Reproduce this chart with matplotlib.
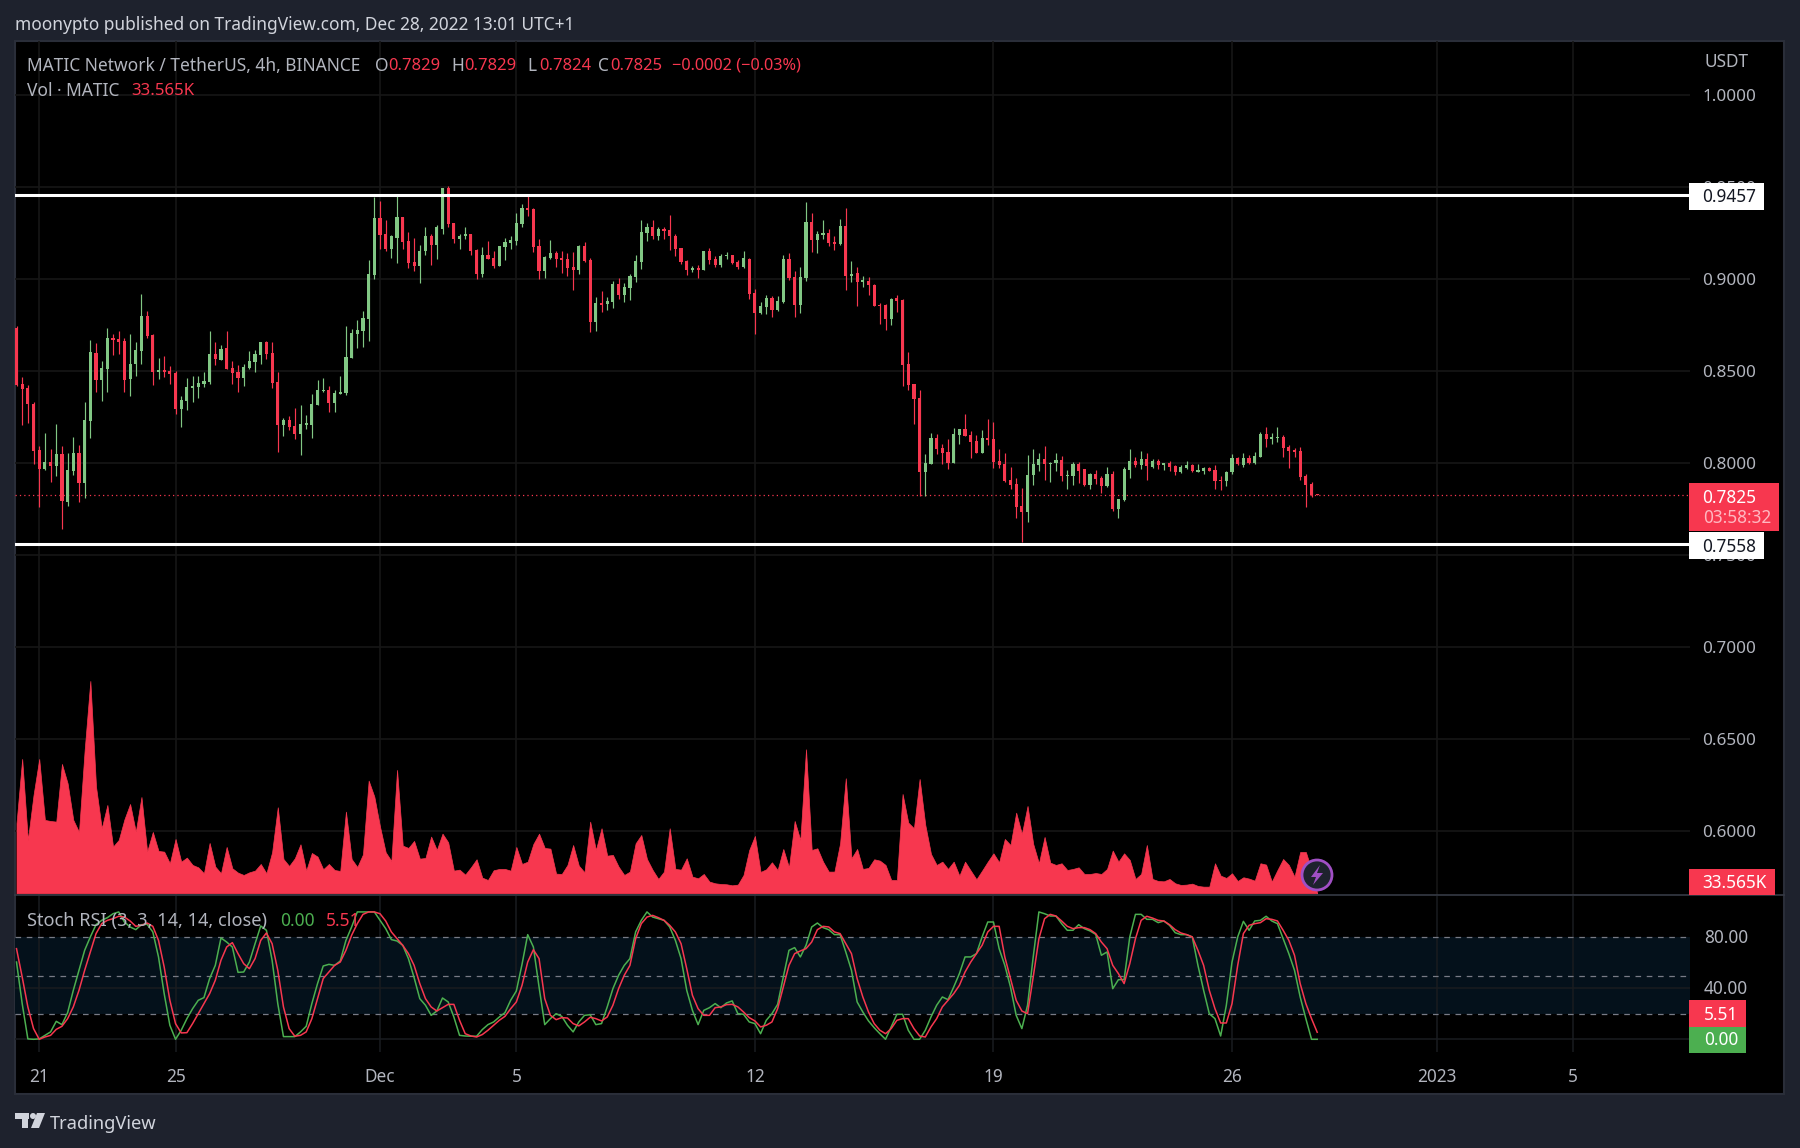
import matplotlib
matplotlib.use('Agg')
import matplotlib.pyplot as plt
from matplotlib.patches import Rectangle, Circle, Polygon
import numpy as np

plt.rcParams['font.family'] = ['Noto Sans', 'DejaVu Sans']

# 4h candles, MATIC/USDT
opens = [.8735,.8431,.8409,.8322,.8071,.7966,.8006,.7984,.8050,.7789,
.7957,.8055,.7892,.8229,.8599,.8452,.8512,.8681,.8675,.8665,
.8458,.8539,.8610,.8800,.8697,.8496,.8507,.8501,.8490,.8295,
.8338,.8409,.8414,.8431,.8441,.8594,.8561,.8627,.8518,.8496,
.8463,.8518,.8550,.8588,.8659,.8599,.8441,.8207,.8235,.8202,
.8159,.8207,.8207,.8316,.8392,.8398,.8327,.8376,.8382,.8572,
.8703,.8719,.8784,.9024,.9334,.9247,.9165,.9225,.9339,.9209,
.9095,.9073,.9154,.9231,.9187,.9274,.9492,.9307,.9220,.9231,
.9247,.9160,.9029,.9133,.9116,.9073,.9176,.9198,.9209,.9301,
.9388,.9383,.9182,.9045,.9116,.9143,.9116,.9111,.9067,.9051,
.9182,.9105,.8768,
.8871,.8866,.8877,.8975,.8915,.8953,.9013,.9095,.9252,.9280,
.9231,.9274,.9269,.9236,.9171,.9100,.9051,.9062,.9051,.9154,
.9111,.9078,.9127,.9133,.9095,.9067,.9111,.8926,.8817,.8850,
.8899,.8833,.8877,.9111,.9013,.8860,.9007,.9312,.9214,.9241,
.9252,.9203,.9192,.9290,.9018,.9035,.8986,.8991,.8969,.8860,
.8860,.8784,.8899,.8888,.8539,.8431,.8354,.7952,.7995,.8137,
.8082,.8061,.8001,.8153,.8186,.8153,.8120,.8055,.8137,.8131,
.8012,.7995,.7908,.7886,.7767,.7734,.7935,.7990,.8023,.7995,
.8001,.8017,.7930,.7930,.7995,.7968,.7881,.7941,.7919,.7875,
.7941,.7750,.7800,.7963,.8012,.7990,.8023,.7979,.8012,.7990,
.8001,.7984,.7952,.7974,.7990,.7952,.7957,.7974,.7963,.7908,
.7903,.7952,.8028,.7990,.8028,.8001,.8033,.8159,.8131,.8137,
.8142,.8088,.8071,.8066,.7930,.7886,.7829]
closes = [.8426,.8403,.8318,.8066,.7968,.8006,.7984,.8050,.7796,.7963,
.8055,.7892,.8235,.8605,.8452,.8518,.8681,.8670,.8659,.8452,
.8539,.8616,.8800,.8692,.8496,.8507,.8496,.8485,.8295,.8343,
.8414,.8420,.8436,.8447,.8594,.8567,.8621,.8512,.8490,.8463,
.8523,.8556,.8594,.8659,.8594,.8436,.8207,.8235,.8197,.8159,
.8213,.8218,.8322,.8398,.8398,.8327,.8382,.8387,.8578,.8708,
.8724,.8790,.9029,.9334,.9241,.9165,.9236,.9339,.9203,.9089,
.9073,.9154,.9231,.9187,.9280,.9492,.9301,.9220,.9236,.9247,
.9154,.9029,.9133,.9111,.9073,.9182,.9203,.9214,.9307,.9388,
.9377,.9176,.9045,.9122,.9143,.9111,.9105,.9062,.9051,.9182,
.9100,.8768,.8871,
.8860,.8882,.8975,.8915,.8958,.9018,.9100,.9258,.9280,.9231,
.9274,.9263,.9231,.9165,.9095,.9051,.9062,.9051,.9154,.9105,
.9078,.9127,.9133,.9089,.9067,.9116,.8920,.8817,.8855,.8899,
.8833,.8882,.9111,.9007,.8860,.9013,.9312,.9214,.9247,.9252,
.9198,.9192,.9290,.9018,.9029,.8986,.8991,.8969,.8855,.8855,
.8784,.8893,.8882,.8534,.8425,.8349,.7952,.8001,.8137,.8077,
.8055,.8001,.8159,.8186,.8148,.8115,.8055,.8137,.8126,.8006,
.7990,.7903,.7881,.7762,.7734,.7935,.7995,.8023,.7995,.8001,
.8017,.7930,.7935,.7995,.7957,.7881,.7941,.7914,.7875,.7941,
.7750,.7805,.7968,.8012,.7990,.8023,.7984,.8012,.7990,.8001,
.7979,.7952,.7979,.7990,.7957,.7963,.7974,.7957,.7903,.7903,
.7952,.8028,.7995,.8028,.8001,.8039,.8159,.8131,.8142,.8142,
.8082,.8066,.8061,.7925,.7881,.7826,.7825]
highs = [.8746,.8469,.8426,.8333,.8091,.8164,.8077,.8213,.8093,.8055,
.8142,.8099,.8333,.8670,.8654,.8556,.8735,.8703,.8719,.8681,
.8703,.8659,.8920,.8827,.8703,.8572,.8583,.8529,.8501,.8365,
.8463,.8474,.8474,.8496,.8719,.8659,.8643,.8719,.8556,.8534,
.8539,.8610,.8616,.8659,.8665,.8659,.8496,.8246,.8257,.8300,
.8316,.8262,.8376,.8452,.8463,.8420,.8398,.8474,.8746,.8730,
.8779,.8827,.9105,.9448,.9426,.9318,.9241,.9454,.9339,.9258,
.9225,.9187,.9280,.9247,.9296,.9492,.9508,.9307,.9247,.9280,
.9247,.9165,.9176,.9209,.9154,.9182,.9225,.9236,.9356,.9405,
.9454,.9388,.9220,.9127,.9214,.9154,.9154,.9143,.9149,.9187,
.9203,.9116,.8904,
.8937,.8904,.8991,.9007,.8980,.9029,.9133,.9318,.9307,.9323,
.9285,.9285,.9350,.9247,.9171,.9105,.9073,.9078,.9154,.9171,
.9127,.9138,.9149,.9133,.9105,.9154,.9116,.8948,.8877,.8915,
.8910,.8910,.9133,.9143,.9045,.9067,.9421,.9356,.9263,.9318,
.9274,.9231,.9328,.9388,.9100,.9067,.9018,.9013,.8975,.8871,
.8866,.8899,.8915,.8893,.8605,.8431,.8398,.8050,.8164,.8159,
.8104,.8131,.8191,.8186,.8268,.8175,.8153,.8180,.8240,.8224,
.8077,.8055,.7979,.7919,.7865,.8044,.8077,.8055,.8093,.8006,
.8055,.8039,.7963,.8006,.8006,.7968,.7946,.7963,.7930,.7979,
.7957,.7805,.7979,.8077,.8033,.8066,.8055,.8023,.8023,.8001,
.8012,.7990,.7990,.8012,.7995,.7995,.7979,.7979,.7990,.7930,
.7957,.8050,.8033,.8055,.8044,.8061,.8169,.8197,.8164,.8197,
.8153,.8099,.8082,.8088,.7941,.7897,.7829]
lows = [.8417,.8204,.8218,.7995,.7763,.7961,.7899,.7930,.7643,.7767,
.7935,.7789,.7810,.8137,.8387,.8338,.8387,.8588,.8594,.8387,
.8365,.8474,.8539,.8681,.8426,.8458,.8469,.8431,.8268,.8197,
.8289,.8333,.8354,.8414,.8431,.8534,.8561,.8512,.8431,.8387,
.8420,.8512,.8496,.8539,.8567,.8409,.8061,.8148,.8180,.8131,
.8044,.8186,.8137,.8316,.8387,.8278,.8278,.8376,.8371,.8572,
.8627,.8632,.8665,.9002,.9165,.9154,.9116,.9089,.9165,.9062,
.9045,.8980,.9133,.9078,.9111,.9247,.9285,.9198,.9165,.9220,
.9133,.9002,.9013,.9111,.9062,.9073,.9105,.9165,.9187,.9280,
.9345,.9149,.9002,.9007,.9111,.9067,.9035,.9018,.8942,.9029,
.9095,.8714,.8719,
.8822,.8833,.8844,.8893,.8877,.8888,.8986,.9056,.9209,.9220,
.9214,.9220,.9160,.9127,.9084,.9024,.9040,.9007,.9051,.9084,
.9067,.9067,.9111,.9084,.9056,.9062,.8893,.8703,.8811,.8811,
.8795,.8828,.8871,.8997,.8795,.8817,.8991,.9149,.9143,.9220,
.9182,.9160,.9187,.8942,.8986,.8855,.8958,.8915,.8855,.8757,
.8724,.8752,.8822,.8420,.8398,.8213,.7819,.7823,.7995,.8050,
.7995,.7968,.8001,.8104,.8148,.8028,.8055,.8055,.8099,.7974,
.7974,.7897,.7859,.7702,.7571,.7680,.7881,.7957,.7908,.7897,
.7957,.7903,.7859,.7881,.7892,.7875,.7859,.7886,.7837,.7870,
.7739,.7702,.7794,.7919,.7979,.7968,.7908,.7974,.7968,.7963,
.7957,.7935,.7946,.7968,.7952,.7952,.7941,.7957,.7859,.7854,
.7875,.7941,.7990,.7979,.7995,.7995,.8033,.8088,.8104,.8115,
.8033,.7974,.8033,.7908,.7762,.7815,.7824]

# volume, millions
volume = [10.0,19.19,7.62,14.05,19.19,10.48,10.33,10.24,18.48,15.71,10.48,8.76,20.48,30.33,15.24,9.29,12.62,6.67,7.62,10.57,
12.76,8.81,13.76,5.95,8.76,6.05,5.95,4.29,7.76,4.52,5.10,4.05,3.71,2.86,7.19,3.81,2.86,6.62,3.57,2.95,
2.62,3.00,3.24,4.19,2.86,5.86,12.29,4.90,3.90,5.00,7.00,3.24,5.76,5.24,3.43,4.19,3.33,3.19,11.67,4.90,
3.76,5.57,16.10,13.81,9.52,5.86,4.62,17.62,6.81,6.48,7.48,4.95,5.05,8.10,6.19,8.52,7.29,3.24,3.38,2.67,
3.71,4.86,2.24,1.90,3.29,3.48,3.48,3.24,6.62,4.19,4.52,7.05,8.52,6.48,6.38,2.81,2.76,4.05,6.90,3.95,
3.00,10.24,6.19,9.29,5.38,5.48,3.81,2.62,3.10,7.14,8.33,4.90,3.33,2.05,3.10,9.29,3.48,3.38,5.00,2.38,2.14,
2.76,1.67,1.43,1.33,1.29,1.14,1.24,2.62,6.19,8.19,3.05,3.43,4.43,3.33,6.33,3.71,10.33,7.62,20.57,6.19,
6.43,4.52,3.10,3.10,7.14,16.43,5.00,6.33,3.48,3.62,4.86,4.67,4.05,1.90,1.90,14.19,10.10,9.29,16.33,9.76,
5.62,4.05,4.52,3.48,4.52,2.52,4.52,3.24,2.00,3.24,4.52,5.71,4.43,7.76,6.90,11.52,8.48,12.48,7.05,4.29,
8.05,4.38,4.05,4.29,3.33,3.48,3.71,2.76,2.76,2.90,2.76,3.48,6.10,4.52,5.71,4.76,2.05,2.76,6.90,2.05,
1.76,1.71,2.05,1.43,1.19,1.24,1.38,1.05,.95,.95,4.29,2.52,2.19,2.86,1.76,2.29,2.10,1.81,4.29,4.10,
1.67,3.33,4.90,4.05,2.38,5.90,5.90,3.33,0.0336]

# Stoch RSI
stoch_k = [60.6,28.0,0.3,0,0.3,3.1,5.8,14.1,11.5,20.9,38.4,54.1,69.8,80.3,89.9,93.3,95.4,98.5,99.9,92.0,
88.1,86.0,89.9,90.2,84.2,64.6,35.8,11.0,0,7.1,16.2,24.0,30.6,32.7,47.6,58.0,79.5,76.3,72.4,52.5,
52.8,60.6,75.0,88.9,85.5,62.0,28.0,2.1,2.1,2.1,5.8,10.2,28.0,43.7,57.5,58.8,58.0,61.4,77.6,88.1,
99.9,99.9,99.9,99.9,93.3,86.8,78.2,77.1,73.7,63.3,48.4,31.9,26.7,18.8,22.2,32.4,29.3,17.5,3.1,2.6,
2.4,2.4,7.6,11.5,13.6,17.5,20.9,30.6,37.9,58.8,82.1,72.4,41.0,11.5,16.2,20.1,18.0,11.0,5.8,13.6,
18.8,19.3,11.5,12.3,25.4,39.7,50.2,58.0,63.3,84.2,93.3,99.9,95.9,94.6,93.3,88.1,77.6,63.3,38.4,22.7,11.5,
22.7,24.8,28.0,24.8,28.5,30.1,20.1,19.6,13.6,12.3,4.4,14.9,20.1,27.4,48.9,69.8,71.9,64.6,73.7,88.1,
91.2,87.6,86.0,82.1,82.1,68.5,54.1,29.3,21.4,14.4,9.1,4.4,0,9.7,19.6,19.6,7.1,0,0,7.1,
17.5,26.7,33.2,31.1,41.0,51.5,64.6,64.6,67.2,80.3,92.0,92.0,71.1,58.0,41.0,18.8,8.4,26.7,64.6,99.9,
98.5,96.7,96.7,90.7,85.5,85.5,89.9,86.8,85.0,82.3,65.9,68.5,39.7,46.8,46.8,80.3,98.0,98.0,94.1,94.1,
91.5,92.8,89.4,83.6,82.1,82.1,80.3,58.0,38.4,20.1,16.2,2.6,26.7,60.6,80.3,92.5,85.5,92.8,93.3,96.5,
92.8,90.7,78.9,67.2,54.1,33.2,16.2,0,0]
stoch_d = [71.1,48.9,25.4,8.4,0,1.8,3.1,7.8,10.2,16.2,25.4,38.4,54.1,68.5,82.9,90.7,93.3,94.6,96.5,95.9,
92.8,88.6,89.4,91.2,88.6,77.6,56.7,30.6,12.3,5.0,5.2,12.3,20.1,28.0,35.8,46.3,62.0,72.4,75.8,67.2,
59.3,55.4,63.3,77.6,83.4,75.0,54.1,25.4,8.4,2.4,3.1,5.8,16.2,31.9,47.6,52.8,58.0,60.6,69.8,81.6,
90.7,98.0,99.9,99.9,98.5,92.8,84.2,78.9,73.7,67.2,58.0,43.7,31.9,25.4,22.2,24.8,27.4,27.4,14.9,4.4,
2.6,1.8,3.7,7.1,11.0,14.9,18.0,24.0,29.3,42.3,60.6,70.3,63.3,31.9,18.8,15.4,17.0,16.7,12.3,10.5,
13.6,17.3,16.2,14.4,17.5,26.7,39.7,50.2,58.0,78.9,90.7,95.9,97.2,95.4,93.3,89.4,84.2,75.0,55.4,34.5,24.0,
18.8,18.8,24.8,25.4,27.2,27.4,25.4,21.4,17.0,14.4,9.7,11.0,13.6,24.0,41.0,58.0,67.2,69.3,71.1,76.3,
86.0,88.6,88.1,84.2,82.9,75.0,67.2,47.6,33.2,21.4,12.3,7.1,4.4,8.4,14.9,16.2,16.2,8.4,2.6,1.8,
9.7,16.2,25.4,30.6,35.8,42.3,52.8,60.6,67.2,73.7,84.2,88.6,88.6,64.6,47.6,30.6,22.2,20.1,48.9,78.9,
94.6,98.0,96.7,92.8,88.6,86.8,87.6,87.6,86.0,82.9,76.3,71.1,58.0,51.5,43.7,59.3,78.9,93.3,96.5,95.1,
93.3,92.8,89.9,86.0,83.4,82.1,80.3,69.8,58.0,38.4,24.0,12.8,12.8,28.0,58.0,82.9,89.4,90.7,91.5,94.6,
94.1,92.8,85.5,77.6,65.9,43.7,28.0,16.2,5.51]

price_ticks = [1.0, 0.95, 0.9, 0.85, 0.8, 0.75, 0.7, 0.65, 0.6]
time_ticks = [4, 28, 64, 88, 130, 172, 214, 250, 274]
time_labels = ['21', '25', 'Dec', '5', '12', '19', '26', '2023', '5']
top_level = 0.9457
bottom_level = 0.7558
last_price = 0.7825

BG = '#1e222d'
GRID = '#161616'
RED = '#f7374f'
CANDLE_UP = '#81c784'
STOCH_GREEN = '#4caf50'
TXT = '#b2b5be'

W, H = 1800, 1148
fig = plt.figure(figsize=(18, 11.48), dpi=100, facecolor=BG)

def pane(l, t, r, b, **kw):
    # axes from pixel edges
    return fig.add_axes([l / W, 1 - b / H, (r - l) / W, (b - t) / H], **kw)

def fpx(px):
    return px * 0.72

# chrome behind the panes
back = pane(0, 0, W, H, zorder=0)
back.set_xlim(0, W)
back.set_ylim(H, 0)
back.axis('off')
back.add_patch(Rectangle((15, 41), 1769, 1053, fc='black', ec='#2a2e39', lw=1.5))

x0 = 16.5
bar_w = 5.68
xlim = ((15 - x0) / bar_w, (1690 - x0) / bar_w)
idx = np.arange(len(opens))

# price pane
ax = pane(15, 41, 1690, 895, zorder=2, facecolor='none')
ax.set_xlim(xlim)
ax.set_ylim(1 - (895 - 95) / 1840, 1 + (95 - 41) / 1840)
for s in ax.spines.values():
    s.set_visible(False)
ax.set_yticks(price_ticks)
ax.set_yticklabels([f'{p:.4f}' for p in price_ticks])
ax.yaxis.tick_right()
ax.tick_params(axis='y', length=0, pad=8.8, labelsize=fpx(17.1), labelcolor=TXT)
ax.set_xticks(time_ticks)
ax.tick_params(axis='x', length=0, labelbottom=False)
ax.grid(True, color=GRID, lw=1.2)
ax.set_axisbelow(True)

o = np.array(opens)
c = np.array(closes)
hi = np.array(highs)
lo = np.array(lows)
up = c >= o
colors = np.where(up, CANDLE_UP, RED)
ax.vlines(idx, lo, hi, colors=colors, lw=0.85, zorder=3)
ax.bar(idx, np.maximum(np.abs(c - o), 0.0006), bottom=np.minimum(o, c), width=0.56, color=colors, lw=0, zorder=3)

ax.axhline(top_level, color='white', lw=2.2, zorder=4)
ax.axhline(bottom_level, color='white', lw=2.2, zorder=4)
ax.axhline(last_price, color=RED, lw=0.9, ls=(0, (1, 2.5)), zorder=2)

# volume overlay, same pane
ax_vol = pane(15, 41, 1690, 895, zorder=3, facecolor='none')
ax_vol.set_xlim(xlim)
ax_vol.set_ylim(-(895 - 893.3) / 7, (893.3 - 41) / 7)
ax_vol.axis('off')
ax_vol.fill_between(np.arange(len(volume)), volume, 0, color=RED, lw=0.5)

# stoch rsi pane
ax_s = pane(15, 896, 1690, 1052, zorder=2, facecolor='none')
ax_s.set_xlim(xlim)
ax_s.set_ylim((1039.3 - 1052) / 1.275, (1039.3 - 896) / 1.275)
for s in ax_s.spines.values():
    s.set_visible(False)
ax_s.axhspan(20, 80, color='#04111b', lw=0, zorder=0.5)
ax_s.set_yticks([0, 40])
ax_s.set_xticks(time_ticks)
ax_s.set_xticklabels(time_labels)
ax_s.tick_params(axis='x', length=0, pad=11.5, labelsize=fpx(17.2), labelcolor=TXT)
ax_s.tick_params(axis='y', length=0, labelleft=False)
ax_s.grid(True, color='#1a1c20', lw=1.1, zorder=0.6)
ax_s.set_axisbelow(True)
for lev in [80, 50, 20]:
    ax_s.axhline(lev, color='#787b86', lw=0.9, ls=(0, (4.5, 4.5)), zorder=1)
ax_s.plot(np.arange(len(stoch_k)), stoch_k, color=STOCH_GREEN, lw=1.1, zorder=3)
ax_s.plot(np.arange(len(stoch_d)), stoch_d, color=RED, lw=1.1, zorder=3)

# overlay for labels
top = pane(0, 0, W, H, zorder=5, facecolor='none')
top.set_xlim(0, W)
top.set_ylim(H, 0)
top.axis('off')
top.plot([15, 1784], [895, 895], color='#363a45', lw=1.2)

def label(x0_, y0_, x1_, y1_, fc):
    top.add_patch(Rectangle((x0_, y0_), x1_ - x0_, y1_ - y0_, fc=fc, ec='none', zorder=2))

def txt(x, y, s, color=TXT, size=17.2, **kw):
    kw.setdefault('va', 'center')
    kw.setdefault('ha', 'left')
    top.text(x, y, s, color=color, fontsize=fpx(size), zorder=3, **kw)

label(1689, 183, 1764, 210, 'white')
txt(1756, 197, '0.9457', color='#131722', ha='right')
label(1689, 532, 1764, 559, 'white')
txt(1756, 546.5, '0.7558', color='#131722', ha='right')
label(1689, 483, 1779, 531, RED)
txt(1756, 498, '0.7825', color='white', ha='right')
txt(1771, 518, '03:58:32', color='#ffb8c1', ha='right')
label(1689, 869, 1775, 895, RED)
txt(1767, 883.5, '33.565K', color='white', ha='right')
label(1689, 1000, 1746, 1027, RED)
txt(1738, 1014.5, '5.51', color='white', ha='right')
label(1689, 1027, 1746, 1053, STOCH_GREEN)
txt(1738, 1040, '0.00', color='white', ha='right')
txt(1704, 938, '80.00')
txt(1704, 989, '40.00')
txt(1704, 62, 'USDT')

# header and legends
txt(15, 25, 'moonypto published on TradingView.com, Dec 28, 2022 13:01 UTC+1', color='#d1d4dc', size=17.3, weight='medium')
txt(27, 66, 'MATIC Network / TetherUS, 4h, BINANCE', size=17.4)
for xl, letter, xv, val in [(375, 'O', 388, '0.7829'), (451, 'H', 464, '0.7829'),
                            (527, 'L', 539, '0.7824'), (598, 'C', 610, '0.7825')]:
    txt(xl, 66, letter, size=17.4)
    txt(xv, 66, val, color=RED, size=16.6)
txt(672, 66, '\u22120.0002 (\u22120.03%)', color=RED, size=16.3)
txt(27, 91, 'Vol \u00b7 MATIC', size=17.4)
txt(131, 91, '33.565K', color=RED, size=16.8)
txt(27, 921, 'Stoch RSI (3, 3, 14, 14, close)', size=18.2)
txt(280, 921, '0.00', color=STOCH_GREEN, size=17.4)
txt(326, 921, '5.51', color=RED, size=17.4)

# bolt badge at the last bar
top.add_patch(Circle((1317, 875), 15, fc=BG, ec='#a04fc4', lw=2, zorder=4))
top.add_patch(Polygon([(1320, 865), (1311, 877), (1316, 877), (1313, 885), (1323, 873), (1317, 873)],
                      fc='#a04fc4', ec='none', zorder=5))

# logo
logo = '#d1d4dc'
top.add_patch(Rectangle((15, 1113), 14, 6, fc=logo, ec='none'))
top.add_patch(Rectangle((22, 1113), 6, 15, fc=logo, ec='none'))
top.add_patch(Circle((33, 1116), 3, fc=logo, ec='none'))
top.add_patch(Polygon([(37, 1113), (45, 1113), (39, 1128), (31, 1128)], fc=logo, ec='none'))
txt(50, 1124, 'TradingView', color='#d1d4dc', size=18.3)

fig.savefig('out.png', dpi=100, facecolor=BG)
